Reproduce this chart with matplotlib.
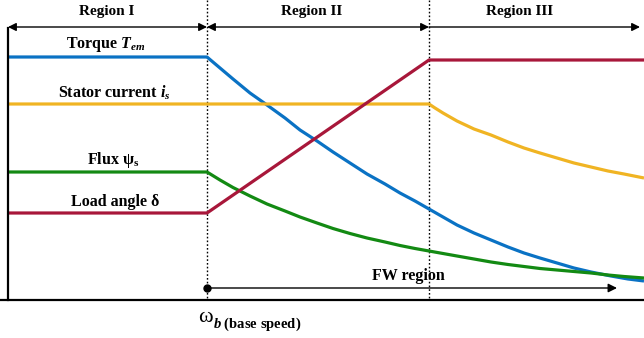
import matplotlib
matplotlib.use("Agg")
import matplotlib.pyplot as plt

# ---- data (speed axis in px-like units, values as pixel rows) ----
W = 644
BASE_Y = 300  # pixel row of the speed axis
torque_x = [8, 207, 233, 250, 267, 285, 300, 317, 333, 350, 367, 385, 400, 415, 429,
            443, 457, 474, 491, 508, 524, 540, 557, 574, 591, 611, 628, 644]
torque_py = [57, 57, 79, 93, 105, 118, 130, 141, 152, 163, 174, 184, 193, 201, 209,
             217, 225, 233, 240, 247, 253, 258, 263, 268, 272, 276, 279, 281]
current_x = [8, 429, 435, 443, 457, 474, 491, 508, 524, 540, 557, 574, 591, 608, 624, 644]
current_py = [104, 104, 108, 113, 121, 129, 135, 142, 148, 153, 158, 163, 167, 171, 174, 178]
flux_x = [8, 207, 220, 233, 250, 267, 285, 300, 317, 333, 350, 367, 385, 400, 415, 429,
          443, 457, 474, 491, 508, 524, 540, 557, 574, 591, 608, 624, 644]
flux_py = [172, 172, 180, 187.5, 196, 204, 211, 217, 223, 228.5, 233.5, 238, 242, 245.5, 248.5, 251,
           253.5, 256, 259, 262, 264.5, 266.5, 268.5, 270, 271.5, 273, 275, 276.5, 278]
angle_x = [8, 207, 429, 644]
angle_py = [213, 213, 60, 60]

boundaries = [207, 429]
region_labels = ["Region I", "Region II", "Region III"]
region_label_x = [107, 312, 520]

def h(py):
    return [BASE_Y - v for v in py]

plt.rcParams['font.family'] = ['Liberation Serif', 'DejaVu Serif']
plt.rcParams['mathtext.fontset'] = 'custom'
plt.rcParams['mathtext.rm'] = 'Liberation Serif:bold'
plt.rcParams['mathtext.it'] = 'Liberation Serif:bold:italic'
plt.rcParams['mathtext.bf'] = 'Liberation Serif:bold'

fig = plt.figure(figsize=(6.44, 3.38), dpi=100)
ax = fig.add_axes([0, 0, 1, 1])
ax.set_xlim(0, W)
ax.set_ylim(BASE_Y - 338, BASE_Y)
ax.axis('off')

blue = '#0a72c4'
orange = '#f0b423'
green = '#138a13'
red = '#a8173a'
lw = 2.3

for xs, ys, c in [(torque_x, torque_py, blue), (current_x, current_py, orange),
                  (flux_x, flux_py, green), (angle_x, angle_py, red)]:
    ax.plot(xs, h(ys), color=c, lw=lw, solid_capstyle='butt',
            solid_joinstyle='round', zorder=3)

# axes lines
ax.plot([8, 8], [BASE_Y - 28, 0], color='black', lw=1.6, zorder=4)
ax.plot([0, W], [0, 0], color='black', lw=1.6, zorder=4)

# dotted boundaries
for bx in boundaries:
    ax.plot([bx, bx], [BASE_Y, 0], color='black', lw=1.0, ls=(0, (1.2, 1.5)), zorder=2)

# region arrows
arrow_y = BASE_Y - 27
edges = [8, 207, 429, 640]
for i in range(3):
    style = '<|-|>' if i < 2 else '-|>'
    ax.annotate('', xy=(edges[i + 1], arrow_y), xytext=(edges[i], arrow_y),
                arrowprops=dict(arrowstyle=style, color='black', lw=1.0,
                                mutation_scale=12, shrinkA=0, shrinkB=0))
    ax.text(region_label_x[i], BASE_Y - 12, region_labels[i], ha='center', va='center',
            fontsize=11, fontweight='bold')

# curve labels
fs = 11.5
ax.text(106, BASE_Y - 45, r'Torque $T_{em}$', ha='center', va='center', fontsize=fs, fontweight='bold')
ax.text(114, BASE_Y - 93, r'Stator current $i_s$', ha='center', va='center', fontsize=fs, fontweight='bold')
ax.text(113, BASE_Y - 160, r'Flux $\mathregular{\psi_s}$', ha='center', va='center', fontsize=fs, fontweight='bold')
ax.text(115, BASE_Y - 202, 'Load angle δ', ha='center', va='center', fontsize=fs, fontweight='bold')

# FW region arrow
fw_y = BASE_Y - 288
ax.plot([207], [fw_y], 'o', color='black', ms=5, zorder=5)
ax.annotate('', xy=(617, fw_y), xytext=(207, fw_y),
            arrowprops=dict(arrowstyle='-|>', color='black', lw=1.0,
                            mutation_scale=13, shrinkA=0, shrinkB=0))
ax.text(408, BASE_Y - 276, 'FW region', ha='center', va='center', fontsize=fs, fontweight='bold')

# base speed label
ax.text(198, BASE_Y - 318, 'ω', ha='left', va='center', fontsize=16)
ax.text(213, BASE_Y - 324, r'$b$ (base speed)', ha='left', va='center', fontsize=10.5, fontweight='bold')

fig.savefig('out.png', dpi=100)
